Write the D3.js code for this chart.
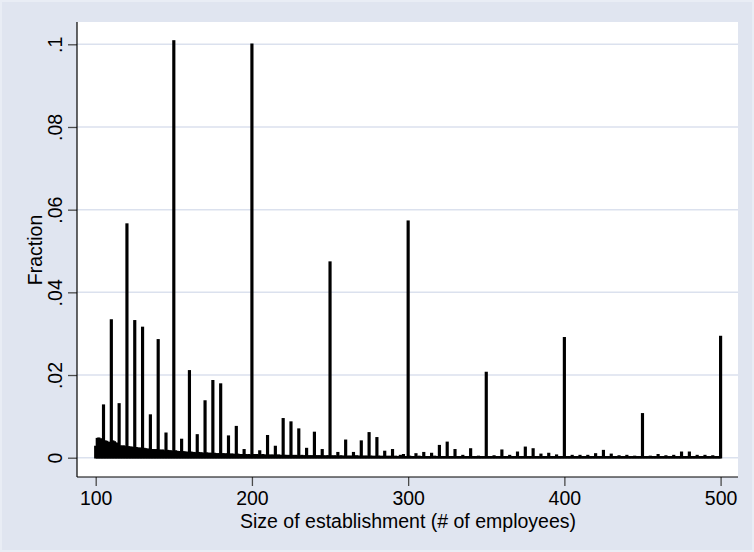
<!DOCTYPE html>
<html>
<head>
<meta charset="utf-8">
<script src="https://cdn.jsdelivr.net/npm/d3@7"></script>
<style>
  html, body { margin: 0; padding: 0; background: #ffffff; }
  svg { display: block; }
  text { font-family: "Liberation Sans", Arial, Helvetica, sans-serif; fill: #000; }
</style>
</head>
<body>
<svg id="chart" width="754" height="552"></svg>
<script>
// ---------------- DATA ----------------
// Fractions at sizes that are multiples of 5 (100, 105, ..., 500)
const roundSizes = d3.range(100, 501, 5);
const roundFractions = [
  0.0027, 0.0127, 0.0333, 0.0130, 0.0565, 0.0331, 0.0315, 0.0103, 0.0285, 0.0059, // 100-145
  0.1008, 0.0044, 0.0210, 0.0055, 0.0137, 0.0186, 0.0178, 0.0052, 0.0075, 0.0019, // 150-195
  0.1000, 0.0016, 0.0053, 0.0027, 0.0094, 0.0086, 0.0069, 0.0022, 0.0061, 0.0019, // 200-245
  0.0473, 0.0012, 0.0042, 0.0012, 0.0040, 0.0060, 0.0048, 0.0015, 0.0019, 0.0005, // 250-295
  0.0572, 0.0009, 0.0012, 0.0010, 0.0029, 0.0037, 0.0019, 0.0005, 0.0021, 0.0003, // 300-345
  0.0206, 0.0004, 0.0018, 0.0005, 0.0013, 0.0025, 0.0021, 0.0008, 0.0010, 0.0006, // 350-395
  0.0290, 0.0005, 0.0005, 0.0005, 0.0009, 0.0017, 0.0008, 0.0004, 0.0005, 0.0003, // 400-445
  0.0106, 0.0003, 0.0007, 0.0004, 0.0005, 0.0013, 0.0013, 0.0005, 0.0005, 0.0004, // 450-495
  0.0293                                                                          // 500
];

// Fractions at the other sizes, listed in order 101-104, 106-109, ... , 496-499
const otherFractions = [
  // 101-199
  0.0046, 0.0047, 0.0045, 0.0044,  0.0040, 0.0039, 0.0037, 0.0036,
  0.0040, 0.0038, 0.0035, 0.0034,  0.0028, 0.0027, 0.0028, 0.0026,
  0.0026, 0.0025, 0.0025, 0.0024,  0.0024, 0.0022, 0.0023, 0.0021,
  0.0022, 0.0021, 0.0020, 0.0020,  0.0019, 0.0019, 0.0018, 0.0019,
  0.0018, 0.0017, 0.0018, 0.0016,  0.0017, 0.0016, 0.0016, 0.0015,
  0.0016, 0.0015, 0.0014, 0.0014,  0.0014, 0.0013, 0.0013, 0.0012,
  0.0013, 0.0012, 0.0012, 0.0011,  0.0012, 0.0011, 0.0011, 0.0010,
  0.0011, 0.0010, 0.0010, 0.0010,  0.0010, 0.0009, 0.0009, 0.0009,
  0.0009, 0.0009, 0.0008, 0.0009,  0.0008, 0.0008, 0.0008, 0.0007,
  0.0008, 0.0007, 0.0007, 0.0007,  0.0007, 0.0006, 0.0007, 0.0006,
  // 201-299
  0.0007, 0.0006, 0.0007, 0.0006,  0.0006, 0.0007, 0.0006, 0.0005,
  0.0006, 0.0005, 0.0006, 0.0005,  0.0005, 0.0006, 0.0005, 0.0005,
  0.0005, 0.0005, 0.0004, 0.0005,  0.0005, 0.0004, 0.0005, 0.0004,
  0.0004, 0.0005, 0.0004, 0.0004,  0.0004, 0.0004, 0.0004, 0.0004,
  0.0004, 0.0004, 0.0004, 0.0004,  0.0004, 0.0003, 0.0004, 0.0004,
  0.0004, 0.0003, 0.0004, 0.0003,  0.0003, 0.0004, 0.0003, 0.0003,
  0.0003, 0.0003, 0.0003, 0.0003,  0.0003, 0.0004, 0.0003, 0.0003,
  0.0003, 0.0003, 0.0003, 0.0003,  0.0003, 0.0003, 0.0002, 0.0003,
  0.0003, 0.0003, 0.0002, 0.0003,  0.0003, 0.0002, 0.0003, 0.0002,
  0.0002, 0.0003, 0.0002, 0.0002,  0.0003, 0.0007, 0.0002, 0.0002,
  // 301-399
  0.0003, 0.0002, 0.0002, 0.0002,  0.0002, 0.0003, 0.0002, 0.0002,
  0.0002, 0.0002, 0.0002, 0.0002,  0.0002, 0.0003, 0.0002, 0.0002,
  0.0002, 0.0002, 0.0002, 0.0002,  0.0002, 0.0002, 0.0002, 0.0002,
  0.0002, 0.0002, 0.0002, 0.0002,  0.0002, 0.0002, 0.0002, 0.0002,
  0.0002, 0.0002, 0.0002, 0.0002,  0.0002, 0.0002, 0.0002, 0.0002,
  0.0002, 0.0002, 0.0002, 0.0002,  0.0002, 0.0002, 0.0002, 0.0002,
  0.0002, 0.0002, 0.0002, 0.0002,  0.0002, 0.0002, 0.0002, 0.0002,
  0.0002, 0.0002, 0.0002, 0.0002,  0.0002, 0.0002, 0.0002, 0.0002,
  0.0002, 0.0002, 0.0002, 0.0002,  0.0002, 0.0002, 0.0002, 0.0002,
  0.0002, 0.0002, 0.0002, 0.0002,  0.0002, 0.0002, 0.0002, 0.0002,
  // 401-499
  0.0002, 0.0002, 0.0002, 0.0002,  0.0002, 0.0002, 0.0002, 0.0002,
  0.0002, 0.0002, 0.0002, 0.0002,  0.0002, 0.0002, 0.0002, 0.0002,
  0.0002, 0.0002, 0.0002, 0.0002,  0.0002, 0.0002, 0.0002, 0.0002,
  0.0002, 0.0002, 0.0002, 0.0002,  0.0002, 0.0002, 0.0002, 0.0002,
  0.0002, 0.0002, 0.0002, 0.0002,  0.0002, 0.0002, 0.0002, 0.0002,
  0.0002, 0.0002, 0.0002, 0.0002,  0.0002, 0.0002, 0.0002, 0.0002,
  0.0002, 0.0002, 0.0002, 0.0002,  0.0002, 0.0002, 0.0002, 0.0002,
  0.0002, 0.0002, 0.0002, 0.0002,  0.0002, 0.0002, 0.0002, 0.0002,
  0.0002, 0.0002, 0.0002, 0.0002,  0.0002, 0.0002, 0.0002, 0.0002,
  0.0002, 0.0002, 0.0002, 0.0002,  0.0002, 0.0002, 0.0002, 0.0002
];
const otherSizes = d3.range(101, 500).filter(v => v % 5 !== 0);

const xTicks = [100, 200, 300, 400, 500];
const xTickLabels = ["100", "200", "300", "400", "500"];
const yTicks = [0, 0.02, 0.04, 0.06, 0.08, 0.1];
const yTickLabels = ["0", ".02", ".04", ".06", ".08", ".1"];
const xTitle = "Size of establishment (# of employees)";
const yTitle = "Fraction";

// ---------------- CHART ----------------
const W = 754, H = 552;
const plot = { left: 77, right: 738, top: 22, bottom: 477 };
const FS = 19.5;

const data = roundSizes.map((s, i) => ({ size: s, frac: roundFractions[i] }))
  .concat(otherSizes.map((s, i) => ({ size: s, frac: otherFractions[i] })))
  .sort((a, b) => a.size - b.size);

const x = d3.scaleLinear().domain([100, 500]).range([95.7, 720.6]);
const y = d3.scaleLinear().domain([0, 0.1]).range([457.7, 44.3]);

const svg = d3.select("#chart");

// background (graph region)
svg.append("rect").attr("x", 0).attr("y", 0).attr("width", W).attr("height", H)
  .attr("fill", "#e9edf5");
svg.append("rect").attr("x", 2).attr("y", 2).attr("width", W - 4).attr("height", H - 4)
  .attr("fill", "#e0e5f0");

// plot region
svg.append("rect")
  .attr("x", plot.left).attr("y", plot.top)
  .attr("width", plot.right - plot.left).attr("height", plot.bottom - plot.top)
  .attr("fill", "#ffffff");

// grid lines
svg.append("g").selectAll("line").data(yTicks).join("line")
  .attr("x1", plot.left).attr("x2", plot.right)
  .attr("y1", d => y(d)).attr("y2", d => y(d))
  .attr("stroke", "#dbe1ee").attr("stroke-width", 1.5);

// bars
const bw = x(101) - x(100);
svg.append("g").selectAll("rect").data(data).join("rect")
  .attr("x", d => x(d.size) - bw / 2)
  .attr("width", bw)
  .attr("y", d => y(d.frac))
  .attr("height", d => y(0) - y(d.frac))
  .attr("fill", "#000")
  .attr("stroke", "#000")
  .attr("stroke-width", 1.6);

// y axis
const yAxis = d3.axisLeft(y).tickValues(yTicks)
  .tickFormat((d, i) => yTickLabels[i]).tickSize(9).tickPadding(6);
const gy = svg.append("g").attr("transform", `translate(${plot.left},0)`).call(yAxis);
gy.select(".domain").remove();
gy.selectAll(".tick line").attr("stroke", "#4a4a4a").attr("stroke-width", 1.3);
gy.selectAll(".tick text")
  .attr("font-size", FS)
  .attr("font-family", "Liberation Sans, Arial, sans-serif")
  .attr("fill", "#000")
  .attr("text-anchor", "middle")
  .attr("x", 0).attr("dy", 0)
  .attr("transform", "translate(-22,0) rotate(-90)")
  .attr("dominant-baseline", "central");
gy.append("line")
  .attr("x1", 0).attr("x2", 0).attr("y1", plot.top).attr("y2", plot.bottom)
  .attr("stroke", "#000").attr("stroke-width", 1.2);

// x axis
const xAxis = d3.axisBottom(x).tickValues(xTicks)
  .tickFormat((d, i) => xTickLabels[i]).tickSize(9).tickPadding(5);
const gx = svg.append("g").attr("transform", `translate(0,${plot.bottom})`).call(xAxis);
gx.select(".domain").remove();
gx.selectAll(".tick line").attr("stroke", "#4a4a4a").attr("stroke-width", 1.3);
gx.selectAll(".tick text")
  .attr("font-size", FS)
  .attr("font-family", "Liberation Sans, Arial, sans-serif")
  .attr("fill", "#000");
gx.append("line")
  .attr("x1", plot.left).attr("x2", plot.right).attr("y1", 0).attr("y2", 0)
  .attr("stroke", "#000").attr("stroke-width", 1.2);

// axis titles
svg.append("text")
  .attr("x", 408).attr("y", 528)
  .attr("text-anchor", "middle")
  .attr("font-size", FS)
  .text(xTitle);
svg.append("text")
  .attr("transform", "translate(42,250) rotate(-90)")
  .attr("text-anchor", "middle")
  .attr("font-size", FS)
  .text(yTitle);
</script>
</body>
</html>
